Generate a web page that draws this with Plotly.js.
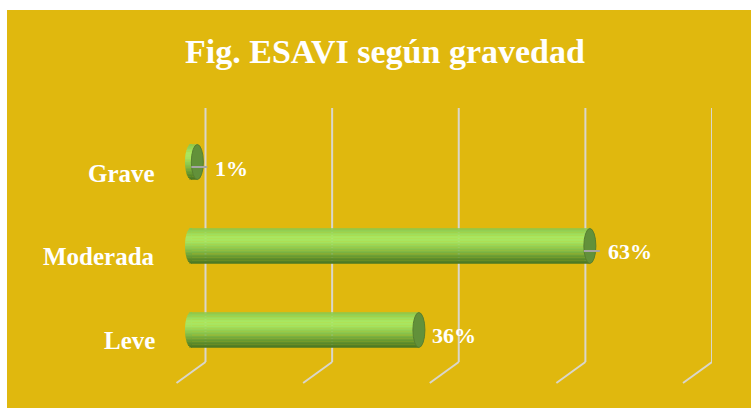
<!DOCTYPE html>
<html>
<head>
<meta charset="utf-8">
<script src="https://cdn.plot.ly/plotly-3.0.1.min.js"></script>
<style>
  html, body { margin: 0; padding: 0; background: #ffffff; width: 751px; height: 408px; overflow: hidden; }
  #chart { position: absolute; left: 7px; top: 10px; width: 744px; height: 398px; }
</style>
</head>
<body>
<div id="chart"></div>
<script>
// ---- data ----
var categories = ['Grave', 'Moderada', 'Leve'];
var values = [1, 63, 36];
var valueLabels = ['1%', '63%', '36%'];
var showLeader = [true, true, false];
var gridTicks = [0, 20, 40, 60, 80];
var chartTitle = 'Fig. ESAVI según gravedad';

// ---- styling ----
var gold = '#E0B80E';
var gridColor = '#D9D6CC';
var serif = '"Liberation Serif", "DejaVu Serif", serif';
// cylinder shading key colours, bottom -> top
var shadeStops = [[0.0, [74, 116, 33]], [0.15, [96, 144, 45]], [0.4, [136, 194, 74]],
                  [0.62, [166, 228, 96]], [0.75, [170, 232, 98]], [1.0, [138, 198, 76]]];
var nStrips = 24;
var barThickness = 0.42;

function shadeAt(t) {
  for (var s = 1; s < shadeStops.length; s++) {
    if (t <= shadeStops[s][0]) {
      var a = shadeStops[s - 1], b = shadeStops[s];
      var f = (t - a[0]) / (b[0] - a[0]);
      var c = a[1].map(function (v, j) { return Math.round(v + (b[1][j] - v) * f); });
      return 'rgb(' + c.join(',') + ')';
    }
  }
  return 'rgb(' + shadeStops[shadeStops.length - 1][1].join(',') + ')';
}

// layout geometry (pixels inside the 744x398 plot)
var W = 744, H = 398;
var backStart = 198.5, backEnd = 705;   // back plane 0..80
var depthShift = -14.5;                  // bars sit mid-depth
var extraPx = 40;                        // room for caps/floor lines left of zero
var pxPerUnit = (backEnd - backStart) / 80;
var extraUnits = extraPx / pxPerUnit;

var catOrder = categories.slice().reverse();
function catIndex(c) { return catOrder.indexOf(c); }

var traces = [];
var stripW = barThickness / nStrips;
for (var k = 0; k < nStrips; k++) {
  traces.push({
    type: 'bar', orientation: 'h',
    x: values, y: categories,
    xaxis: 'x', yaxis: 'y',
    width: stripW * 1.15,
    offset: -barThickness / 2 + k * stripW,
    marker: { color: shadeAt((k + 0.5) / nStrips), line: { width: 0 } },
    hoverinfo: 'skip', showlegend: false
  });
}

var shapes = [];
gridTicks.forEach(function (t) {
  shapes.push({ type: 'line', layer: 'below', xref: 'x2', yref: 'paper',
    x0: t, x1: t, y0: 0.1156, y1: 0.7538,
    line: { color: gridColor, width: 2 } });
  shapes.push({ type: 'line', layer: 'below', xref: 'x2', yref: 'paper',
    xsizemode: 'pixel', xanchor: t, x0: 0, x1: -29,
    y0: 0.1156, y1: 0.0628,
    line: { color: gridColor, width: 2 } });
});
categories.forEach(function (c, i) {
  var yi = catIndex(c);
  // rounded left end of the cylinder
  for (var k = 0; k < nStrips; k++) {
    var yb = -17.5 + k * (35 / nStrips);
    var frac = Math.abs((yb + 35 / nStrips / 2) / 17.5);
    var hw = 6 * Math.sqrt(Math.max(0, 1 - frac * frac));
    shapes.push({ type: 'rect', layer: 'below', xref: 'x', yref: 'y',
      xsizemode: 'pixel', ysizemode: 'pixel', xanchor: 0, yanchor: yi,
      x0: -hw, x1: 1, y0: yb, y1: yb + 35 / nStrips + 0.4,
      fillcolor: shadeAt((k + 0.5) / nStrips), line: { width: 0 } });
  }
  // end face
  shapes.push({ type: 'circle', layer: 'above', xref: 'x', yref: 'y',
    xsizemode: 'pixel', ysizemode: 'pixel', xanchor: values[i], yanchor: yi,
    x0: -6, x1: 6, y0: -17.5, y1: 17.5,
    fillcolor: '#62913A', line: { color: '#587F30', width: 1 } });
  if (showLeader[i]) {
    shapes.push({ type: 'line', layer: 'above', xref: 'x', yref: 'y',
      xsizemode: 'pixel', ysizemode: 'pixel', xanchor: values[i], yanchor: yi,
      x0: -6, x1: 10, y0: -5, y1: -5,
      line: { color: '#A6A6A6', width: 2 } });
  }
});

var annotations = [];
categories.forEach(function (c, i) {
  var yi = catIndex(c);
  annotations.push({ xref: 'paper', yref: 'y', x: 157 / W - 7 / W, y: yi,
    xanchor: 'right', yanchor: 'middle', yshift: -11, showarrow: false,
    text: '<b>' + c + '</b>', font: { family: serif, size: 25, color: '#ffffff' } });
  annotations.push({ xref: 'x', yref: 'y', x: values[i], y: yi,
    xanchor: 'left', yanchor: 'middle', xshift: showLeader[i] ? 16 : 11, yshift: -6,
    showarrow: false,
    text: '<b>' + valueLabels[i] + '</b>', font: { family: serif, size: 22, color: '#ffffff' } });
});

var layout = {
  width: W, height: H,
  margin: { l: 0, r: 0, t: 0, b: 0, pad: 0 },
  paper_bgcolor: gold, plot_bgcolor: 'rgba(0,0,0,0)',
  barmode: 'overlay',
  showlegend: false,
  title: { text: '<b>' + chartTitle + '</b>', x: 0.508, y: 0.897, xanchor: 'center', yanchor: 'middle',
    font: { family: serif, size: 34, color: '#ffffff' } },
  xaxis: { domain: [(backStart + depthShift - extraPx) / W, (backEnd + depthShift) / W],
    range: [-extraUnits, 80], visible: false, fixedrange: true },
  xaxis2: { domain: [(backStart - extraPx) / W, backEnd / W],
    range: [-extraUnits, 80], visible: false, anchor: 'y', fixedrange: true },
  yaxis: { domain: [0.0905, 0.7236], type: 'category', categoryorder: 'array', categoryarray: catOrder,
    range: [-0.5, 2.5], visible: false, fixedrange: true },
  shapes: shapes,
  annotations: annotations
};

Plotly.newPlot('chart', traces, layout, { displayModeBar: false, staticPlot: true });
</script>
</body>
</html>
